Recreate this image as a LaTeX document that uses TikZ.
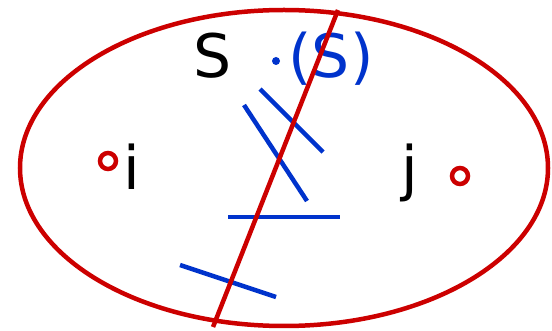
\documentclass[tikz,border=0pt]{standalone}
\usepackage{fontspec}
\setmainfont{DejaVu Sans}
\definecolor{myred}{RGB}{204,0,0}
\definecolor{myblue}{RGB}{0,51,204}
\begin{document}
\begin{tikzpicture}[x=1pt,y=-1pt,
  redline/.style={myred,line width=4.5pt},
  blueline/.style={myblue,line width=4.5pt},
  dotmark/.style={circle,draw=myred,line width=4.5pt,minimum size=16pt,inner sep=0pt},
  bigtext/.style={font=\fontsize{60}{64}\selectfont,inner sep=0pt}]
\useasboundingbox (0,0) rectangle (552,331);
\draw[redline] (284,168) ellipse [x radius=264, y radius=158];
\node[bigtext,anchor=base] (S) at (213,78) {S};
\node[bigtext,anchor=base,text=myblue] (dS) at (331,78) {(S)};
\node[circle,fill=myblue,minimum size=8pt,inner sep=0pt] (dot) at (276,61) {};
\node[bigtext,anchor=base] (i) at (132,190) {i};
\node[bigtext,anchor=base] (j) at (410,190) {j};
\node[dotmark] (ci) at (108,161) {};
\node[dotmark] (cj) at (460,176) {};
\coordinate (r1) at (338,10);
\coordinate (r2) at (213,327);
\draw[blueline] (260,89) -- (323,152);
\draw[blueline] (244,105) -- (307,201);
\draw[blueline] (228,217) -- (340,217);
\draw[blueline] (180,265) -- (276,297);
\draw[redline] (r1) -- (r2);
\end{tikzpicture}
\end{document}
